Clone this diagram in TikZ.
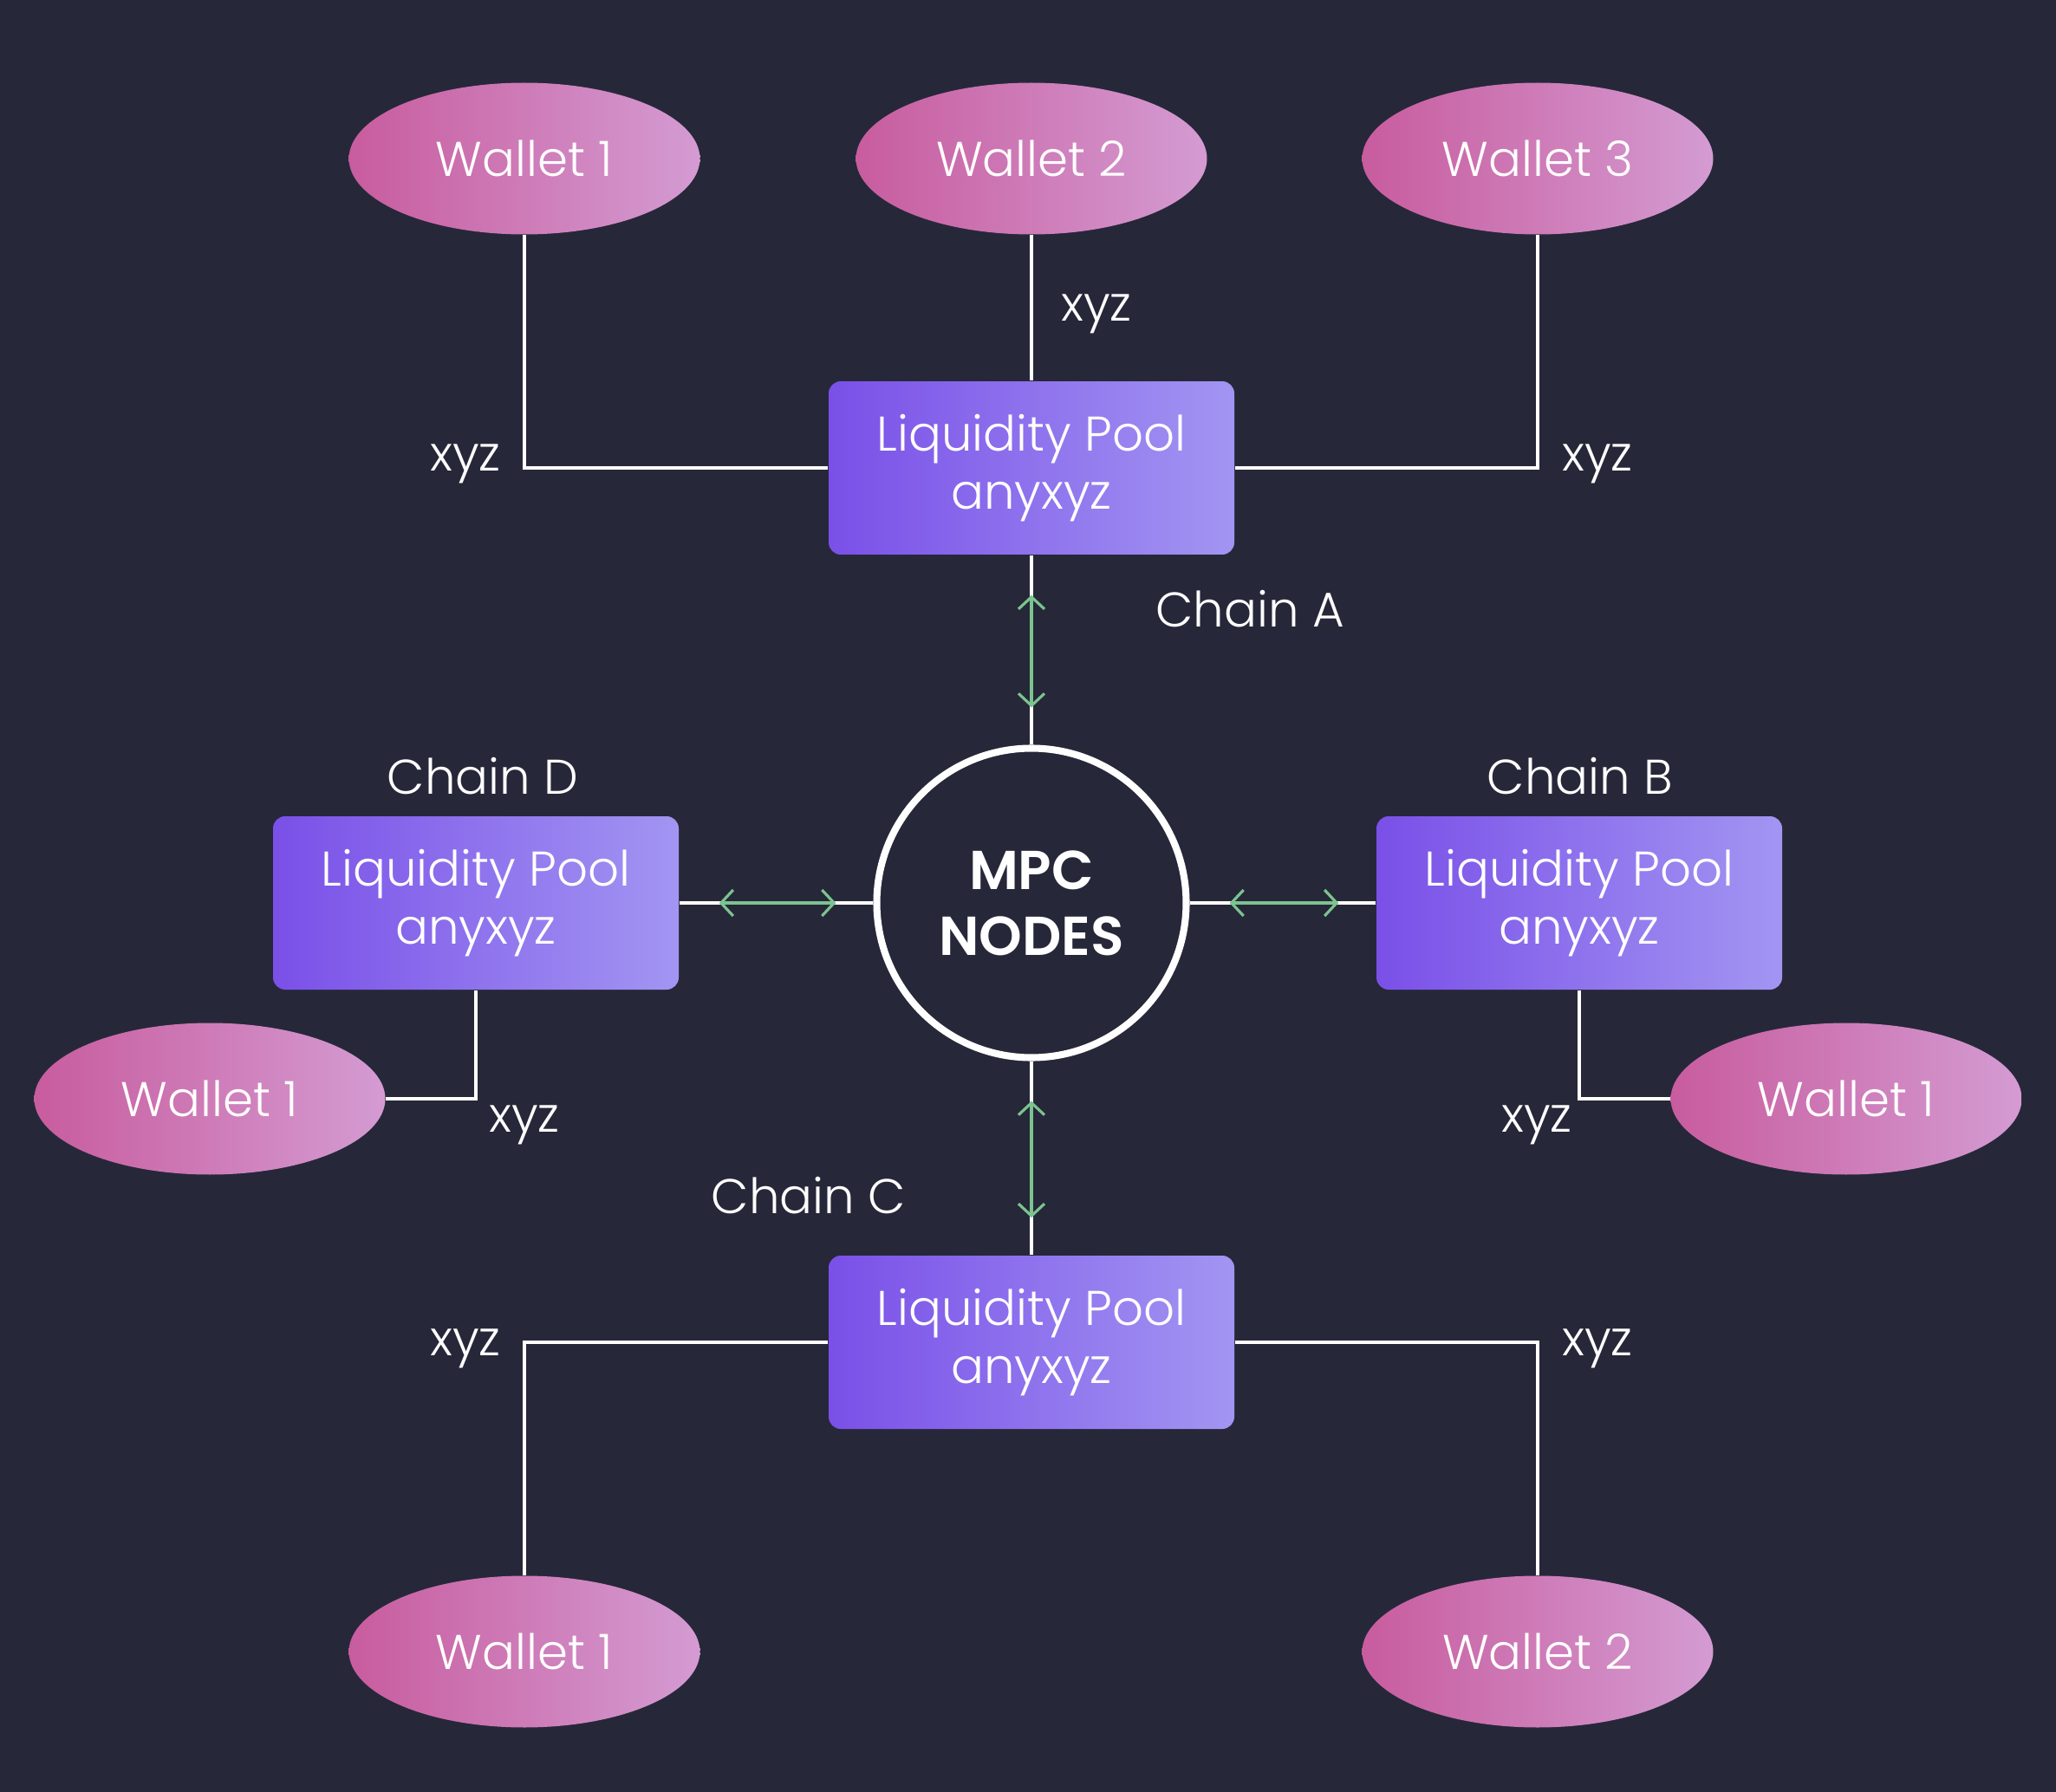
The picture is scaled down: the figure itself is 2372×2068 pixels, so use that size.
\documentclass[tikz,border=0pt]{standalone}
\usepackage{fontspec}
\IfFontExistsTF{Poppins Light}{\setmainfont{Poppins Light}[BoldFont={Poppins SemiBold}]}{\setmainfont{Poppins}}
\usetikzlibrary{shapes.geometric,arrows.meta}
\definecolor{bgnavy}{HTML}{262839}
\definecolor{walletL}{HTML}{C85C9E}
\definecolor{walletR}{HTML}{D49BD2}
\definecolor{poolL}{HTML}{7A50E8}
\definecolor{poolR}{HTML}{A295F2}
\definecolor{linkgreen}{HTML}{7CC390}
\begin{document}
\begin{tikzpicture}[x=0.1mm,y=-0.1mm,
  wallet/.style={ellipse,minimum width=40.5mm,minimum height=17.5mm,inner sep=0pt,left color=walletL,right color=walletR,text=white,font=\fontsize{16}{19}\selectfont},
  pool/.style={rectangle,rounded corners=1.4mm,minimum width=46.8mm,minimum height=20mm,inner sep=0pt,left color=poolL,right color=poolR,text=white,align=center,font=\fontsize{16}{19}\selectfont},
  tag/.style={text=white,inner sep=0pt,font=\fontsize{16}{19}\selectfont},
  wire/.style={draw=white,line width=1pt},
  link/.style={draw=linkgreen,line width=0.9pt,{Straight Barb[length=1.4mm,width=3mm]}-{Straight Barb[length=1.4mm,width=3mm]},shorten <=4.6mm,shorten >=4.3mm}]

\fill[bgnavy] (0,0) rectangle (2372,2068);
\useasboundingbox (0,0) rectangle (2372,2068);

\node[circle,draw=white,line width=2.3pt,minimum size=35.7mm,fill=bgnavy,text=white,align=center,font=\fontsize{18}{21.6}\selectfont\bfseries] (mpc) at (1190,1042) {MPC\\NODES};

\node[pool] (poolA) at (1190,540) {Liquidity Pool\\anyxyz};
\node[pool] (poolB) at (1822,1042) {Liquidity Pool\\anyxyz};
\node[pool] (poolC) at (1190,1549) {Liquidity Pool\\anyxyz};
\node[pool] (poolD) at (549,1042) {Liquidity Pool\\anyxyz};

\node[wallet] (walletA1) at (605,183) {Wallet 1};
\node[wallet] (walletA2) at (1190,183) {Wallet 2};
\node[wallet] (walletA3) at (1774,183) {Wallet 3};
\node[wallet] (walletB1) at (2130,1268) {Wallet 1};
\node[wallet] (walletC1) at (605,1906) {Wallet 1};
\node[wallet] (walletC2) at (1774,1906) {Wallet 2};
\node[wallet] (walletD1) at (242,1268) {Wallet 1};

\node[tag] (chainA) at (1442,703) {Chain A};
\node[tag] (chainB) at (1823,896) {Chain B};
\node[tag] (chainC) at (933,1380) {Chain C};
\node[tag] (chainD) at (557,896) {Chain D};

\node[tag] (xyzA1) at (537,535) {xyz};
\node[tag] (xyzA2) at (1265,362) {xyz};
\node[tag] (xyzA3) at (1843,535) {xyz};
\node[tag] (xyzB1) at (1773,1298) {xyz};
\node[tag] (xyzC1) at (537,1556) {xyz};
\node[tag] (xyzC2) at (1843,1556) {xyz};
\node[tag] (xyzD1) at (605,1298) {xyz};

\draw[wire] (walletA1.south) |- (poolA.west);
\draw[wire] (walletA2.south) -- (poolA.north);
\draw[wire] (walletA3.south) |- (poolA.east);
\draw[wire] (poolB.south) |- (walletB1.west);
\draw[wire] (poolC.west) -| (walletC1.north);
\draw[wire] (poolC.east) -| (walletC2.north);
\draw[wire] (poolD.south) |- (walletD1.east);

\draw[wire] (poolA) -- (mpc);
\draw[wire] (poolB) -- (mpc);
\draw[wire] (poolC) -- (mpc);
\draw[wire] (poolD) -- (mpc);
\draw[link] (poolA.south) -- (mpc.north);
\draw[link] (mpc.east) -- (poolB.west);
\draw[link] (mpc.south) -- (poolC.north);
\draw[link] (poolD.east) -- (mpc.west);

\end{tikzpicture}
\end{document}
